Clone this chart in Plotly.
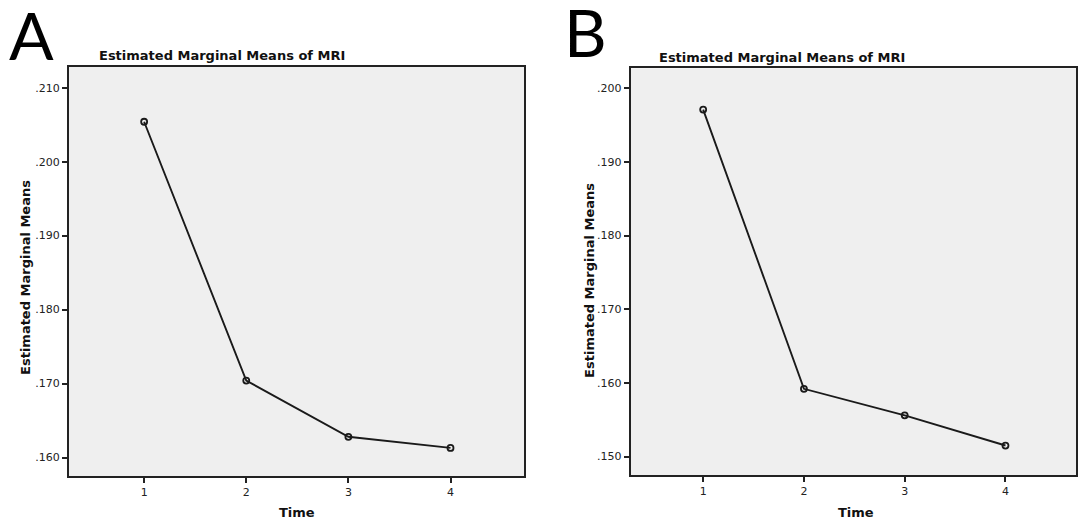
import plotly.graph_objects as go

W, H = 1078, 521

time_points = [1, 2, 3, 4]
mri_a = [0.2054, 0.1704, 0.1628, 0.1613]
mri_b = [0.1971, 0.1592, 0.1556, 0.1515]

ytick_vals_a = [0.160, 0.170, 0.180, 0.190, 0.200, 0.210]
ytick_text_a = [".160", ".170", ".180", ".190", ".200", ".210"]
ytick_vals_b = [0.150, 0.160, 0.170, 0.180, 0.190, 0.200]
ytick_text_b = [".150", ".160", ".170", ".180", ".190", ".200"]
xtick_text = ["1", "2", "3", "4"]

chart_title = "Estimated Marginal Means of MRI"
y_title = "Estimated Marginal Means"
x_title = "Time"

def px_x(x):
    return x / W

def px_y(y):
    return 1 - y / H

fig = go.Figure()

line_style = dict(color="#1a1a1a", width=1.9)
marker_style = dict(symbol="circle-open", size=6, color="#1a1a1a", line=dict(width=1.8, color="#1a1a1a"))

fig.add_trace(go.Scatter(x=time_points, y=mri_a, mode="lines+markers", line=line_style,
                         marker=marker_style, xaxis="x", yaxis="y", showlegend=False))
fig.add_trace(go.Scatter(x=time_points, y=mri_b, mode="lines+markers", line=line_style,
                         marker=marker_style, xaxis="x2", yaxis="y2", showlegend=False))

tickfont = dict(family="DejaVu Sans", size=11, color="#222")
axis_common = dict(showline=True, linecolor="#222", linewidth=1.6, mirror=True,
                   ticks="outside", ticklen=5, tickwidth=1.6, tickcolor="#222",
                   showgrid=False, zeroline=False, tickfont=tickfont)

fig.update_layout(
    width=W, height=H,
    margin=dict(l=0, r=0, t=0, b=0),
    paper_bgcolor="white",
    plot_bgcolor="#efefef",
    xaxis=dict(domain=[px_x(69), px_x(525)], range=[0.263, 4.72], anchor="y",
               tickvals=time_points, ticktext=xtick_text, **axis_common),
    yaxis=dict(domain=[px_y(476), px_y(67)], range=[0.1575, 0.2128], anchor="x",
               tickvals=ytick_vals_a, ticktext=ytick_text_a, **axis_common),
    xaxis2=dict(domain=[px_x(631.7), 1.0], range=[0.279, 4.70], anchor="y2",
                tickvals=time_points, ticktext=xtick_text, **axis_common),
    yaxis2=dict(domain=[px_y(475), px_y(68.3)], range=[0.1475, 0.2027], anchor="x2",
                tickvals=ytick_vals_b, ticktext=ytick_text_b, **axis_common),
)

bold = dict(family="DejaVu Sans", size=13, color="#111")

annotations = [
    dict(text="A", x=px_x(7), y=px_y(76), xanchor="left", yanchor="bottom",
         font=dict(family="Lato", size=66, color="black")),
    dict(text="B", x=px_x(563), y=px_y(73), xanchor="left", yanchor="bottom",
         font=dict(family="Lato", size=66, color="black")),
    dict(text="<b>" + chart_title + "</b>", x=px_x(97), y=px_y(56), xanchor="left", yanchor="middle", font=bold),
    dict(text="<b>" + chart_title + "</b>", x=px_x(658), y=px_y(58), xanchor="left", yanchor="middle", font=bold),
    dict(text="<b>" + y_title + "</b>", x=px_x(25), y=px_y(277), xanchor="center", yanchor="middle",
         textangle=-90, font=bold),
    dict(text="<b>" + y_title + "</b>", x=px_x(590), y=px_y(280), xanchor="center", yanchor="middle",
         textangle=-90, font=bold),
    dict(text="<b>" + x_title + "</b>", x=px_x(298), y=px_y(512), xanchor="center", yanchor="middle", font=bold),
    dict(text="<b>" + x_title + "</b>", x=px_x(858), y=px_y(512), xanchor="center", yanchor="middle", font=bold),
]
for a in annotations:
    a.update(xref="paper", yref="paper", showarrow=False)
fig.update_layout(annotations=annotations)

fig.write_html("out.html", config={"displayModeBar": False},
               post_script="document.body.style.margin='0';document.body.style.overflow='hidden';")
